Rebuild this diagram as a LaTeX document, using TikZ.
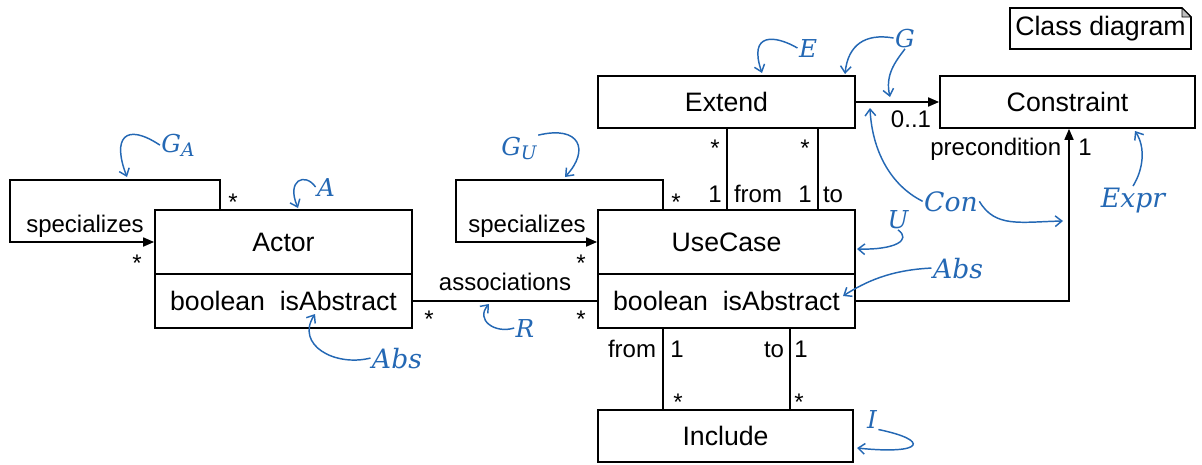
\RequirePackage{fix-cm}
\documentclass[tikz,border=0pt]{standalone}
\usepackage{fontspec}
\setmainfont{Liberation Sans}
\newfontfamily\annfont{DejaVu Serif}
\usetikzlibrary{arrows.meta,positioning}

\definecolor{annblue}{RGB}{36,104,180}
\newcommand{\annsub}[1]{\raisebox{-0.35ex}{\fontsize{14}{14}\selectfont #1}}

\tikzset{every picture/.style={line width=1.3pt}}
\tikzset{
  cls/.style={draw, rectangle, inner sep=0pt, minimum width=192.75pt, font=\fontsize{20}{24}\selectfont},
  lbl/.style={inner sep=0pt, anchor=base, font=\fontsize{18}{22}\selectfont},
  ann/.style={text=annblue, inner sep=0.5pt, anchor=base, font=\fontsize{18.5}{22}\annfont\itshape},
  annbig/.style={ann, font=\fontsize{20}{24}\annfont\itshape},
  annarrow/.style={draw=annblue, line width=1.1pt, -{Straight Barb[length=5pt,width=8pt]}},
  link/.style={-{Triangle[length=8.25pt,width=6.75pt]}}
}

\begin{document}
\begin{tikzpicture}[x=0.75pt,y=0.75pt,yscale=-1,xscale=1]
	\useasboundingbox (0,0) rectangle (1202,464);

	%Shape: Classes
	\node [cls, minimum height=48pt] (actor) at (283.5,242) {Actor};
	\node [cls, minimum height=40.5pt, below=-1.3pt of actor] (actorAttr) {boolean\ \ isAbstract};
	\node [cls, minimum height=48pt] (usecase) at (726.5,242) {UseCase};
	\node [cls, minimum height=40.5pt, below=-1.3pt of usecase] (usecaseAttr) {boolean\ \ isAbstract};
	\node [cls, minimum height=39pt] (extend) at (726.5,102) {Extend};
	\node [cls, minimum width=191.25pt, minimum height=39pt] (constraint) at (1067.5,102) {Constraint};
	\node [cls, minimum width=191.25pt, minimum height=39pt] (include) at (725.5,436) {Include};

	%Shape: Note
	\draw (1010,8) -- (1182,8) -- (1191,17) -- (1191,49) -- (1010,49) -- cycle ;
	\draw [line width=0.6pt, fill=black!25] (1182,8) -- (1182,17) -- (1191,17) -- cycle ;
	\node [inner sep=0pt, font=\fontsize{20}{24}\selectfont] (diagTitle) at (1100.5,28.5) {Class diagram};

	%Straight Lines: specializes loops
	\coordinate (aLoopR) at (220,180);
	\coordinate (aLoopL) at (10,180);
	\draw [link] (aLoopR |- actor.north) -- (aLoopR) -- (aLoopL) -- (aLoopL |- actor.west) -- (actor.west) ;
	\coordinate (uLoopR) at (663,180);
	\coordinate (uLoopL) at (456,180);
	\draw [link] (uLoopR |- usecase.north) -- (uLoopR) -- (uLoopL) -- (uLoopL |- usecase.west) -- (usecase.west) ;

	%Straight Lines: associations
	\draw (actorAttr.east) -- (usecaseAttr.west) ;

	%Straight Lines: extend from / to
	\coordinate (extFrom) at (727,160);
	\coordinate (extTo) at (818,160);
	\draw (extFrom |- extend.south) -- (extFrom |- usecase.north) ;
	\draw (extTo |- extend.south) -- (extTo |- usecase.north) ;

	%Straight Lines: include from / to
	\coordinate (incFrom) at (663,370);
	\coordinate (incTo) at (790,370);
	\draw (incFrom |- usecaseAttr.south) -- (incFrom |- include.north) ;
	\draw (incTo |- usecaseAttr.south) -- (incTo |- include.north) ;

	%Straight Lines: condition and precondition
	\draw [link] (extend.east) -- (constraint.west) ;
	\coordinate (preCorner) at (1069,301);
	\draw [link] (usecaseAttr.east) -- (preCorner) -- (preCorner |- constraint.south) ;

	% Text Node
	\node [lbl] (specA) at (85,232) {specializes};
	\node [lbl] (multA1) at (233,210.5) {*};
	\node [lbl] (multA2) at (137,271.5) {*};
	\node [lbl] (specU) at (527,232) {specializes};
	\node [lbl] (multU1) at (676,210.5) {*};
	\node [lbl] (multU2) at (581,271.5) {*};
	\node [lbl] (assocName) at (505,290) {associations};
	\node [lbl] (multR1) at (429,327.5) {*};
	\node [lbl] (multR2) at (581,327.5) {*};
	% Text Node
	\node [lbl] (multE1) at (715,156.5) {*};
	\node [lbl] (oneE1) at (715,202) {1};
	\node [lbl] (fromE) at (758,202) {from};
	\node [lbl] (multE2) at (805,156.5) {*};
	\node [lbl] (oneE2) at (805,202) {1};
	\node [lbl] (toE) at (833,202) {to};
	% Text Node
	\node [lbl] (fromI) at (632,357) {from};
	\node [lbl] (oneI1) at (677,357) {1};
	\node [lbl] (multI1) at (678,410.5) {*};
	\node [lbl] (toI) at (774,357) {to};
	\node [lbl] (oneI2) at (801,357) {1};
	\node [lbl] (multI2) at (799,410.5) {*};
	% Text Node
	\node [lbl] (condMult) at (911,127) {0..1};
	\node [lbl, anchor=base east] (preName) at (1062,155) {precondition};
	\node [lbl] (preMult) at (1085,155) {1};

	% Annotations
	\node [ann] (lblGA) at (178,152) {G\annsub{A}};
	\node [ann] (lblA) at (326,196) {A};
	\node [annbig] (lblAbsA) at (397,368) {Abs};
	\node [ann] (lblR) at (525,337) {R};
	\node [ann] (lblGU) at (519,155) {G\annsub{U}};
	\node [ann] (lblE) at (808,57) {E};
	\node [ann] (lblG) at (905,47) {G};
	\node [annbig] (lblCon) at (951,211) {Con};
	\node [ann] (lblU) at (898,228) {U};
	\node [annbig] (lblAbsU) at (958,278) {Abs};
	\node [annbig] (lblExpr) at (1133,207) {Expr};
	\node [ann] (lblI) at (872,428) {I};

	\coordinate (tGA) at (127,177);
	\coordinate (tA) at (298,208);
	\coordinate (tAbsA) at (315,314);
	\coordinate (tR) at (489,304);
	\coordinate (tGU) at (565,177);
	\coordinate (tE) at (762,73);
	\coordinate (tG1) at (845,74);
	\coordinate (tG2) at (890,97);
	\coordinate (tCon1) at (870,108);
	\coordinate (tCon2) at (1063,221);
	\coordinate (tU) at (857,249);
	\coordinate (tAbsU) at (843,296);
	\coordinate (tExpr) at (1135,131);
	\coordinate (tI) at (857,448);

	%Curve Lines
	\draw [annarrow] (lblGA.west) .. controls (125,122) and (112,138) .. (tGA) ;
	\draw [annarrow] (lblA.west) .. controls (305,172) and (286,180) .. (tA) ;
	\draw [annarrow] (lblAbsA.west) .. controls (335,367) and (295,345) .. (tAbsA) ;
	\draw [annarrow] (lblR.west) .. controls (495,334) and (475,320) .. (tR) ;
	\draw [annarrow] (lblGU.north east) .. controls (580,125) and (590,150) .. (tGU) ;
	\draw [annarrow] (lblE.west) .. controls (775,35) and (748,32) .. (tE) ;
	\draw [annarrow] (lblG.west) .. controls (865,33) and (848,45) .. (tG1) ;
	\draw [annarrow] (lblG.south) .. controls (895,62) and (885,75) .. (tG2) ;
	\draw [annarrow] (lblCon.west) .. controls (890,185) and (872,150) .. (tCon1) ;
	\draw [annarrow] (lblCon.east) .. controls (995,228) and (1020,222) .. (tCon2) ;
	\draw [annarrow] (lblU.south) .. controls (912,240) and (895,250) .. (tU) ;
	\draw [annarrow] (lblAbsU.west) .. controls (890,270) and (865,282) .. (tAbsU) ;
	\draw [annarrow] (lblExpr.north) .. controls (1143,170) and (1146,148) .. (tExpr) ;
	\draw [annarrow] (lblI.south east) .. controls (930,440) and (925,455) .. (tI) ;

\end{tikzpicture}
\end{document}
